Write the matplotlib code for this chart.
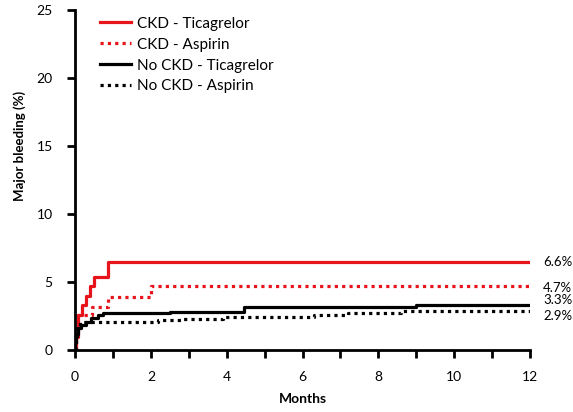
import numpy as np
import matplotlib
matplotlib.use('Agg')
import matplotlib.pyplot as plt

plt.rcParams['font.family'] = ['Lato', 'DejaVu Sans']

# months / cumulative major bleeding (%)
ckd_tica_t = [0, 0.02, 0.08, 0.17, 0.28, 0.39, 0.5, 0.88, 12]
ckd_tica_y = [0, 1.0, 2.6, 3.3, 4.0, 4.7, 5.4, 6.5, 6.5]

ckd_asp_t = [0, 0.03, 0.08, 0.45, 0.88, 2.0, 12]
ckd_asp_y = [0, 1.5, 2.6, 3.2, 3.9, 4.7, 4.7]

nockd_tica_t = [0, 0.01, 0.03, 0.08, 0.15, 0.28, 0.42, 0.6, 0.75, 2.5, 4.45, 9.0, 12]
nockd_tica_y = [0, 0.6, 1.2, 1.6, 1.85, 2.1, 2.35, 2.55, 2.7, 2.8, 3.15, 3.3, 3.3]

nockd_asp_t = [0, 0.02, 0.06, 0.12, 2.2, 2.85, 3.9, 6.3, 7.2, 8.6, 12]
nockd_asp_y = [0, 0.8, 1.6, 2.1, 2.2, 2.3, 2.45, 2.6, 2.75, 2.9, 2.9]

end_labels = ['6.6%', '4.7%', '3.3%', '2.9%']
end_label_y = [6.5, 4.6, 3.7, 2.5]

fig = plt.figure(figsize=(5.73, 4.12), dpi=100)
ax = fig.add_axes([0.131, 0.150, 0.794, 0.826])

ax.step(ckd_tica_t, ckd_tica_y, where='post', color='#e8141b', lw=2.3, label='CKD - Ticagrelor')
ax.step(ckd_asp_t, ckd_asp_y, where='post', color='#e8141b', lw=2.3, ls=(0, (1, 1.3)), label='CKD - Aspirin')
ax.step(nockd_tica_t, nockd_tica_y, where='post', color='black', lw=2.3, label='No CKD - Ticagrelor')
ax.step(nockd_asp_t, nockd_asp_y, where='post', color='black', lw=2.3, ls=(0, (1, 1.3)), label='No CKD - Aspirin')

for lab, yy in zip(end_labels, end_label_y):
    ax.text(12.35, yy, lab, fontsize=9.5, va='center', ha='left', clip_on=False)

ax.set_xlim(0, 12)
ax.set_ylim(0, 25)
ax.set_xticks(range(0, 13, 2))
ax.set_xticks(range(1, 12, 2), minor=True)
ax.set_yticks(range(0, 26, 5))
ax.tick_params(which='both', direction='out', length=6, width=2, labelsize=10)
ax.tick_params(axis='y', pad=10)
ax.tick_params(axis='x', which='both', pad=9)

for s in ['top', 'right']:
    ax.spines[s].set_visible(False)
for s in ['left', 'bottom']:
    ax.spines[s].set_linewidth(2)

ax.set_xlabel('Months', fontsize=10, fontweight='bold', labelpad=7)
ax.set_ylabel('Major bleeding (%)', fontsize=9.5, fontweight='bold')
ax.yaxis.set_label_coords(-0.108, 0.60)

ax.legend(loc='upper left', bbox_to_anchor=(0.025, 1.02), frameon=False, fontsize=11,
          handlelength=2.0, labelspacing=0.45, handletextpad=0.4)

fig.savefig('out.png', dpi=100)
